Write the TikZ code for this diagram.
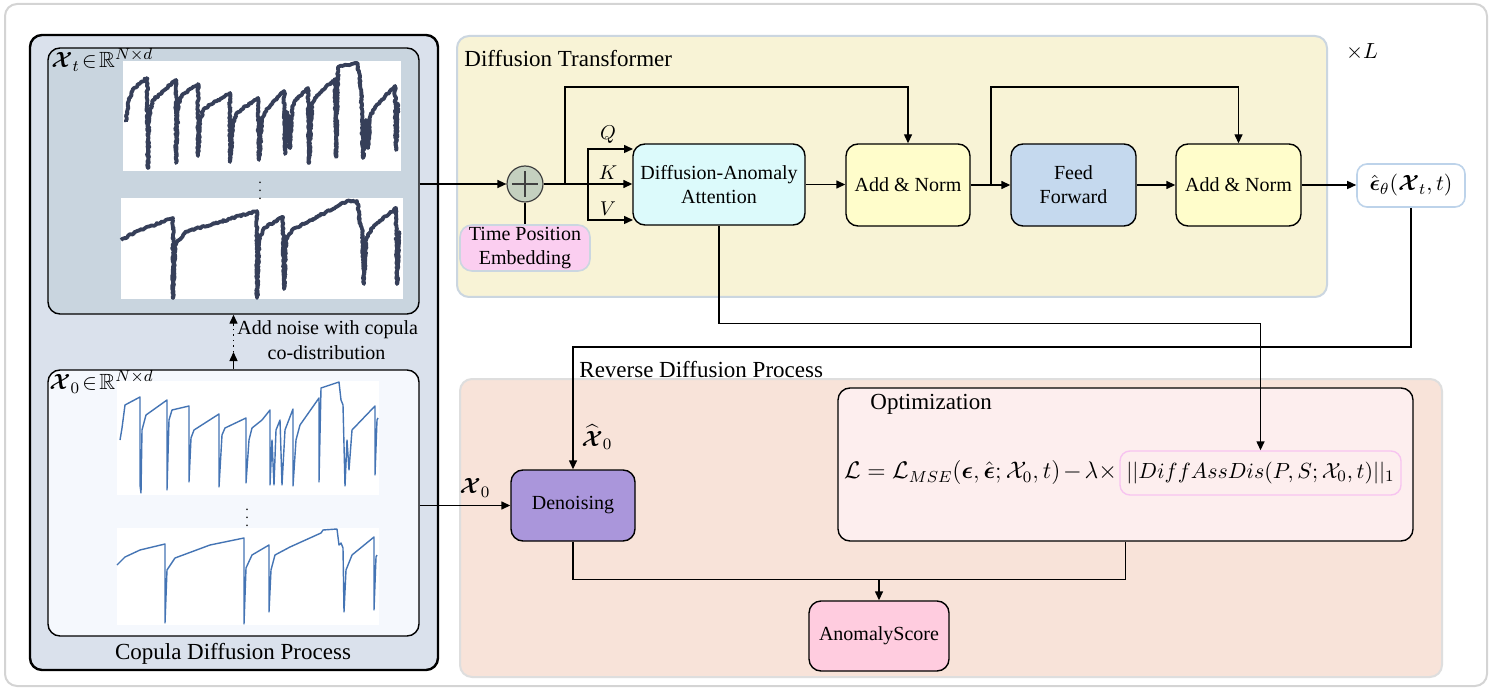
\documentclass[tikz,border=0pt]{standalone}
\usepackage{amsmath,amssymb}
\usepackage{fontspec}
\setmainfont{Liberation Serif}
\usetikzlibrary{arrows.meta,decorations.pathmorphing}
\definecolor{frameC}{HTML}{D4D4D4}
\definecolor{copC}{HTML}{DAE1EC}
\definecolor{xtC}{HTML}{C9D5DF}
\definecolor{xzC}{HTML}{F5F8FD}
\definecolor{trC}{HTML}{F8F3D6}
\definecolor{trB}{HTML}{CBD6E0}
\definecolor{plusC}{HTML}{C4D0BF}
\definecolor{tpeC}{HTML}{FBCEF0}
\definecolor{daaC}{HTML}{DCFAFB}
\definecolor{anC}{HTML}{FFFDCB}
\definecolor{ffC}{HTML}{C5D9EE}
\definecolor{revC}{HTML}{F8E3D9}
\definecolor{revB}{HTML}{DEDEDE}
\definecolor{optC}{HTML}{FDEEEE}
\definecolor{denC}{HTML}{AA96DB}
\definecolor{anoC}{HTML}{FFCCDF}
\definecolor{pinkB}{HTML}{F7C4F0}
\definecolor{outB}{HTML}{BDD3EA}
\definecolor{darkP}{HTML}{363F59}
\definecolor{blueP}{HTML}{4474B4}
\tikzset{
  ttl/.style={font=\fontsize{11.5}{13}\selectfont, inner sep=0},
  lbl/.style={font=\fontsize{10}{12}\selectfont, inner sep=0},
  blk/.style={draw=black, line width=0.7pt, rounded corners=6pt, align=center, inner sep=0, font=\fontsize{10}{12}\selectfont},
  arr/.style={line width=0.7pt, -{Triangle[length=4.5pt,width=4pt]}},
  ln/.style={line width=0.7pt},
  darkplot/.style={darkP, line width=1.9pt, line join=round, decorate, decoration={random steps, segment length=0.7pt, amplitude=0.45pt}},
  blueplot/.style={blueP, line width=0.7pt, line join=round},
}
\begin{document}
\begin{tikzpicture}[x=0.5pt,y=-0.5pt]
\pgfmathsetseed{7}
\useasboundingbox (0,0) rectangle (1491,689);
% outer frame
\draw[frameC, line width=1pt, fill=white, rounded corners=6pt] (5,4) rectangle (1487,686);

% ===== Copula diffusion process =====
\draw[black, line width=1.2pt, fill=copC, rounded corners=6pt] (30,35) rectangle (438,670);
\node[draw=black, line width=0.7pt, fill=xtC, rounded corners=6pt, minimum width=185.5pt, minimum height=133pt, inner sep=0] (Xt) at (233.5,181) {};
\node[draw=black, line width=0.7pt, fill=xzC, rounded corners=6pt, minimum width=185.5pt, minimum height=133pt, inner sep=0] (X0) at (233.5,503) {};
% plot backgrounds
\fill[white] (123,61) rectangle (401,171);
\fill[white] (121,198) rectangle (403,299);
\fill[white] (117,381) rectangle (379,495);
\fill[white] (117,528) rectangle (379,625);
% plot 1
\draw[darkplot] (126,122) -- (129,100) -- (134,88) -- (147,78) -- (148,168) -- (149,118) -- (153,100) -- (176,80) -- (176,163) -- (178,105) -- (182,95) -- (198,84) -- (198,156) -- (200,120) -- (205,108) -- (230,93) -- (230,162) -- (233,122) -- (238,112) -- (258,98) -- (259,160) -- (262,120) -- (266,110) -- (284,91) -- (285,154) -- (287,112) -- (290,148) -- (292,107) -- (296,100) -- (308,88) -- (309,163) -- (312,104) -- (317,95) -- (335,79) -- (336,157) -- (338,67) -- (357,63) -- (360,80) -- (361,92) -- (363,158) -- (366,120) -- (368,148) -- (370,117) -- (376,106) -- (395,86) -- (396,150) -- (398,102);
% plot 2
\draw[darkplot] (121,240) -- (135,232) -- (173,218) -- (173,298) -- (175,245) -- (185,232) -- (257,211) -- (257,298) -- (259,240) -- (264,228) -- (283,217) -- (284,289) -- (286,240) -- (292,230) -- (347,201) -- (357,201) -- (360,222) -- (362,228) -- (364,284) -- (366,240) -- (372,228) -- (396,208) -- (397,284) -- (399,231);
% plot 3
\draw[blueplot] (120,440) -- (122,428) -- (125,405) -- (140,397) -- (140,485) -- (141,493) -- (142,430) -- (146,415) -- (167,400) -- (167,490) -- (169,420) -- (172,410) -- (189,406) -- (189,482) -- (191,438) -- (194,430) -- (219,414) -- (219,487) -- (222,435) -- (225,428) -- (246,418) -- (246,483) -- (249,440) -- (252,428) -- (262,420) -- (270,410) -- (270,485) -- (272,440) -- (274,485) -- (276,430) -- (280,420) -- (282,485) -- (285,430) -- (293,409) -- (293,486) -- (296,440) -- (300,425) -- (319,398) -- (319,482) -- (321,388) -- (339,382) -- (341,400) -- (343,405) -- (345,486) -- (347,440) -- (349,470) -- (352,430) -- (375,406) -- (375,475) -- (377,420) -- (378,418);
% plot 4
\draw[blueplot] (117,565) -- (125,557) -- (140,550) -- (165,544) -- (165,623) -- (167,570) -- (175,558) -- (210,545) -- (244,538) -- (244,624) -- (246,568) -- (252,555) -- (269,545) -- (269,612) -- (271,570) -- (275,555) -- (290,547) -- (321,533) -- (323,530) -- (337,529) -- (339,545) -- (341,543) -- (343,548) -- (344,612) -- (346,570) -- (352,555) -- (374,537) -- (374,610) -- (376,557) -- (377,555);
\node[font=\fontsize{7}{7}\selectfont, inner sep=0] (dots1) at (260,185) {$\vdots$};
\node[font=\fontsize{7}{7}\selectfont, inner sep=0] (dots2) at (247,512) {$\vdots$};
\node[anchor=west, inner sep=0, font=\fontsize{11}{13}\selectfont] (xtl) at (51,60) {$\boldsymbol{\mathcal{X}}_t\!\in\!\mathbb{R}^{N\times d}$};
\node[anchor=west, inner sep=0, font=\fontsize{11}{13}\selectfont] (x0l) at (49,382) {$\boldsymbol{\mathcal{X}}_0\!\in\!\mathbb{R}^{N\times d}$};
% noise arrows
\coordinate (n1) at (233.5,352);
\coordinate (n2) at (233.5,326);
\draw[arr] (X0.north) -- (n1);
\draw[ln, dotted] (n1) -- (n2);
\draw[arr] (n2) -- (Xt.south);
\node[lbl, anchor=west] (noise1) at (237,330) {Add noise with copula};
\node[lbl] (noise2) at (326.5,353) {co-distribution};
\node[ttl] (coptitle) at (233,654) {Copula Diffusion Process};

% ===== Diffusion Transformer =====
\draw[trB, line width=1pt, fill=trC, rounded corners=6pt] (457,36) rectangle (1327,297);
\node[ttl, anchor=west] (trtitle) at (464,59) {Diffusion Transformer};
\node[inner sep=0, font=\fontsize{11}{13}\selectfont] (xL) at (1362,52) {$\times L$};
\node[circle, draw=black!75, line width=0.6pt, fill=plusC, minimum size=18pt, inner sep=0] (plus) at (525,184) {};
\draw[black!75, line width=0.6pt] ([xshift=-6.5pt]plus.center) -- ([xshift=6.5pt]plus.center);
\draw[black!75, line width=0.6pt] ([yshift=-6.5pt]plus.center) -- ([yshift=6.5pt]plus.center);
\node[blk, draw=trB, line width=0.8pt, fill=tpeC, minimum width=65pt, minimum height=23pt] (tpe) at (525,248) {Time Position\\Embedding};
\node[blk, fill=daaC, minimum width=86pt, minimum height=40.5pt] (daa) at (719,184.5) {Diffusion-Anomaly\\Attention};
\node[blk, fill=anC, minimum width=62pt, minimum height=41pt] (an1) at (908,185) {Add \& Norm};
\node[blk, fill=ffC, minimum width=62.5pt, minimum height=41pt] (ff) at (1073.5,185) {Feed\\Forward};
\node[blk, fill=anC, minimum width=62.5pt, minimum height=41pt] (an2) at (1238.5,185) {Add \& Norm};
\node[blk, draw=outB, line width=0.8pt, fill=white, rounded corners=5pt, minimum width=54pt, minimum height=21.5pt, font=\fontsize{11}{13}\selectfont] (out) at (1411,185.5) {$\hat{\boldsymbol{\epsilon}}_\theta(\boldsymbol{\mathcal{X}}_t,t)$};

\draw[arr] (Xt.east |- plus.west) -- (plus.west);
\draw[ln] (plus.south) -- (tpe.north);
\draw[arr] (plus.east) -- (plus.east -| daa.west);
\coordinate (qb) at (588,184);
\coordinate (sk1) at (565,184);
\draw[arr] (qb) -- (588,149) -- (633,149);
\draw[arr] (qb) -- (588,220) -- (633,220);
\node[inner sep=0, font=\fontsize{10}{12}\selectfont] (ql) at (608,135) {$Q$};
\node[inner sep=0, font=\fontsize{10}{12}\selectfont] (kl) at (608,173) {$K$};
\node[inner sep=0, font=\fontsize{10}{12}\selectfont] (vl) at (608,209) {$V$};
\draw[arr] (sk1) -- ++(0,-97) -| (an1.north);
\draw[arr] (daa.east) -- (daa.east -| an1.west);
\draw[arr] (an1.east) -- (ff.west);
\coordinate (sk2) at (991,185);
\draw[arr] (sk2) -- ++(0,-98) -| (an2.north);
\draw[arr] (ff.east) -- (an2.west);
\draw[arr] (an2.east) -- (out.west |- an2.east);

% ===== Reverse diffusion =====
\draw[revB, line width=1pt, fill=revC, rounded corners=6pt] (460,379) rectangle (1442,677);
\node[ttl, anchor=west] (revtitle) at (579,370) {Reverse Diffusion Process};
\node[blk, fill=denC, minimum width=62pt, minimum height=35.5pt] (den) at (573,505.5) {Denoising};
\node[blk, fill=optC, minimum width=287.5pt, minimum height=76.5pt] (opt) at (1125.5,464.5) {};
\node[ttl, anchor=west] (opttitle) at (870,404) {Optimization};
\node[draw=pinkB, line width=0.7pt, rounded corners=5pt, inner sep=0, minimum width=140.5pt, minimum height=22pt, font=\fontsize{11}{13}\selectfont] (pink) at (1260.5,473) {$||DiffAssDis(P,S;\mathcal{X}_0,t)||_1$};
\node[anchor=base east, inner sep=0, font=\fontsize{11.5}{13}\selectfont] (formula) at ([xshift=-1pt]pink.base west) {$\medmuskip=2mu\mathcal{L}=\mathcal{L}_{MSE}(\boldsymbol{\epsilon},\hat{\boldsymbol{\epsilon}};\mathcal{X}_0,t)-\lambda\times$};
\node[blk, fill=anoC, minimum width=70pt, minimum height=35pt] (ano) at (879,636) {AnomalyScore};
\node[inner sep=0, font=\fontsize{11}{13}\selectfont] (xhat) at (597,437) {$\widehat{\boldsymbol{\mathcal{X}}}_0$};
\node[inner sep=0, font=\fontsize{11}{13}\selectfont] (x0in) at (475,488) {$\boldsymbol{\mathcal{X}}_0$};

\draw[arr] (X0.east |- den.west) -- (den.west);
\draw[arr] (out.south) -- ++(0,139) -| (den.north);
\draw[arr] (daa.south) -- ++(0,98) -| (pink.north);
\draw[ln] (den.south) -- ++(0,38) -| (opt.south);
\coordinate (jn) at (879,579);
\draw[arr] (jn) -- (ano.north);
\end{tikzpicture}
\end{document}
